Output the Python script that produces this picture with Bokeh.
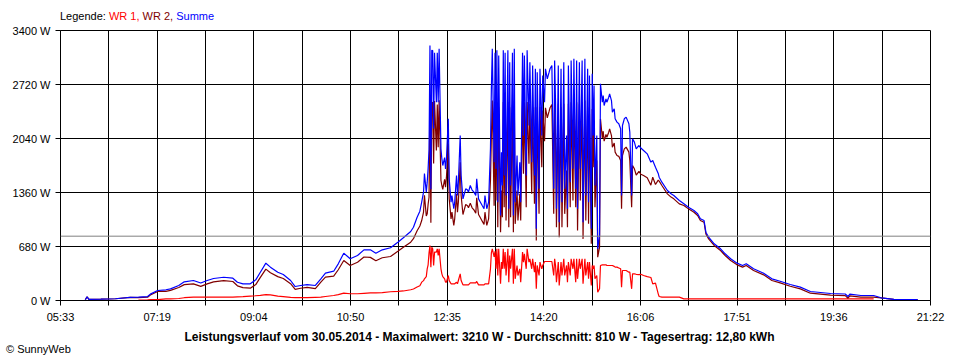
import numpy as np
from bokeh.plotting import figure
from bokeh.models import FixedTicker, Span, Range1d, ColumnDataSource, Div
from bokeh.layouts import column
from bokeh.embed import file_html
from bokeh.resources import INLINE

# ---------------- data (minutes since midnight, watts) ----------------
TIME_MIN = [
    360, 362, 364, 377, 393, 409, 418, 428, 431, 439, 448, 453, 462, 468, 478, 486,
    493, 500, 511, 521, 526, 532, 540, 546, 551, 557, 562, 570, 576, 584, 589, 595,
    602, 611, 617, 622, 631, 636, 642, 649, 657, 664, 671, 677, 684, 693, 701, 707,
    715, 718, 722, 725,
    727, 729, 730, 732, 733, 734, 735, 736, 737, 738, 739, 740, 741, 743, 744, 745,
    746, 748, 749, 750, 752, 753, 754, 756, 757, 759, 760, 762, 763, 765, 766, 767,
    769, 770, 772, 773, 775, 777, 778, 780, 782, 784, 786, 787, 789, 791, 793, 795,
    796, 798, 800, 802, 803, 804, 806, 807, 808, 809, 810, 811, 813, 814, 815, 816,
    817, 818, 819, 821, 822, 823, 824, 826, 827, 828, 829, 831, 832, 834, 835, 837,
    838, 839, 841, 842, 844, 845, 847, 848, 850, 851, 852, 853, 855, 856, 858, 859,
    861, 862, 864, 866, 867, 869, 871, 872, 873, 874, 876, 877, 879, 880, 882, 883,
    885, 886, 887, 889, 890, 892, 893, 895, 896, 897, 899, 900, 902, 903, 905, 906,
    908, 909, 910, 912, 913, 914, 915, 916, 918, 919, 921, 922, 924, 925, 926, 928,
    929, 931, 932, 934, 935, 937, 938, 940, 942, 944, 945, 946, 948, 950, 953, 954,
    956, 957, 959, 961, 964, 966, 969, 973, 977, 979, 982, 985, 986, 989, 995, 999,
    1002, 1008, 1013, 1018, 1024, 1028, 1031, 1035, 1037, 1040, 1046, 1053, 1058,
    1064, 1071, 1077, 1081, 1089, 1100, 1109, 1118, 1129, 1140, 1151, 1162, 1173,
    1189, 1192, 1194, 1206, 1220, 1228, 1242, 1268,
]
SUMME_W = [
    10, 45, 15, 18, 22, 40, 42, 50, 80, 126, 135, 147, 189, 235, 252, 220,
    252, 277, 293, 281, 230, 210, 210, 260, 356, 470, 420, 356, 327, 252, 176, 189,
    201, 189, 273, 344, 369, 462, 596, 525, 567, 638, 638, 596, 638, 664, 734, 790,
    869, 923, 1049, 1124,
    1238, 1364, 1599, 1364, 1490, 1662, 1900, 3211, 1400, 3150, 3148, 2166, 3120, 2497, 3120, 2497,
    3170, 1910, 1784, 1700, 1800, 1658, 1784, 2288, 1532, 1238, 1322, 1155, 1238, 1574, 1322, 1490,
    2078, 1574, 1280, 1322, 1406, 1390, 1364, 1448, 1390, 1364, 1322, 1532, 1280, 1238, 1196, 1155,
    1322, 1155, 1238, 1910, 2666, 3170, 1742, 3120, 1658, 3150, 1238, 3085, 1070, 1868, 1448, 3150,
    1574, 3120, 1322, 3150, 1155, 3001, 1448, 3120, 1070, 3170, 1238, 1826, 1322, 1742, 1238, 3120,
    2078, 3085, 1574, 3150, 2204, 3001, 1742, 2959, 1574, 2918, 903, 2875, 1406, 2918, 2078, 2833,
    2497, 2918, 2792, 2875, 2918, 2959, 1406, 3022, 2497, 1155, 2959, 986, 2918, 1238, 3001, 1406,
    2078, 1155, 2959, 1490, 3022, 1658, 3043, 1406, 3022, 1155, 3001, 1658, 3022, 986, 3043, 1322,
    2918, 1238, 2833, 903, 2854, 2078, 2707, 1448, 2078, 651, 818, 2728, 2497, 2581, 2455, 2539,
    2497, 2560, 2602, 2518, 2372, 2413, 2288, 2246, 2225, 2162, 1322, 2204, 2288, 2309, 2225, 2120,
    1322, 2036, 1994, 1910, 1952, 1920, 1889, 1847, 1742, 1763, 1679, 1600, 1553, 1490, 1385, 1344,
    1322, 1259, 1218, 1175, 1133, 1092, 1029, 1007, 860, 797, 714, 651, 588,
    525, 470, 441, 462, 399, 344, 273, 243, 201, 168, 113, 101, 88,
    82, 50, 80, 63, 63, 34, 13, 10,
]
WR1_W = [
    None, None, None, None, None, None, 5, 8, 10, 12, 20, 20, 25, 35, 42, 42,
    42, 42, 42, 42, 45, 48, 55, 60, 65, 75, 70, 55, 50, 40, 35, 35,
    35, 40, 42, 50, 63, 75, 92, 85, 85, 90, 95, 95, 100, 110, 115, 120,
    135, 145, 170, 185,
    231, 250, 273, 300, 399, 450, 600, 693, 420, 670, 651, 441, 609, 609, 651, 567,
    650, 399, 336, 300, 273, 231, 231, 315, 250, 210, 210, 210, 210, 230, 210, 252,
    336, 252, 197, 197, 197, 197, 197, 223, 223, 223, 223, 240, 197, 197, 197, 197,
    210, 210, 210, 399, 600, 651, 550, 620, 400, 651, 315, 651, 210, 483, 399, 651,
    399, 609, 315, 651, 231, 567, 399, 651, 210, 651, 273, 441, 315, 399, 231, 609,
    483, 588, 399, 650, 483, 525, 399, 525, 357, 483, 147, 441, 315, 483, 399, 441,
    491, 491, 491, 491, 491, 491, 315, 525, 441, 231, 483, 189, 483, 315, 525, 315,
    441, 231, 483, 315, 525, 399, 525, 231, 525, 273, 525, 399, 525, 210, 525, 315,
    483, 273, 483, 189, 441, 399, 441, 273, 315, 105, 147, 441, 449, 449, 449, 449,
    441, 441, 441, 441, 441, 430, 420, 420, 410, 399, 168, 378, 378, 378, 357, 357,
    147, 336, 336, 330, 325, 330, 315, 300, 290, 210, 218, 84, 50, 42, 42, 42,
    42, 42, 21, 21, 21, 21, 21, 21, 21, 21, 21, 21, 21,
    21, 21, 21, 21, 21, 21, 21, 21, 21, 21, 21, 21, 21,
    21, 21, 21, 21, 21, None, None, None,
]

T_START, T_END = 333, 1282          # 05:33 .. 21:22
X_TICK_LABELS = ["05:33", "07:19", "09:04", "10:50", "12:35",
                 "14:20", "16:06", "17:51", "19:36", "21:22"]
Y_TICKS = [0, 680, 1360, 2040, 2720, 3400]
Y_TICK_LABELS = ["0 W", "680 W", "1360 W", "2040 W", "2720 W", "3400 W"]
AVERAGE_W = 810
SERIES = ["WR 1", "WR 2", "Summe"]
COLORS = ["#FF0000", "#800000", "#0000FF"]
TITLE = ("Leistungsverlauf vom 30.05.2014 - Maximalwert: 3210 W - "
         "Durchschnitt: 810 W - Tagesertrag: 12,80 kWh")
COPYRIGHT = "\u00a9 SunnyWeb"

# ---------------- derived series ----------------
t = np.array(TIME_MIN, dtype=float)
summe = np.array(SUMME_W, dtype=float)
wr1 = np.array(WR1_W, dtype=float)
wr2 = summe - np.nan_to_num(wr1)

src = ColumnDataSource(dict(t=t, wr1=wr1, wr2=wr2, summe=summe))

FONT = "Liberation Sans"
W = 952

p = figure(width=W, height=304, output_backend="svg", toolbar_location=None,
           x_range=Range1d(T_START, T_END), y_range=Range1d(0, 3400),
           min_border_left=60, min_border_right=22, min_border_top=8,
           min_border_bottom=26, margin=(0, 0, 0, 0))
p.background_fill_color = "white"
p.border_fill_color = "white"
p.outline_line_color = "black"
p.outline_line_width = 1

n_int = 2 * (len(X_TICK_LABELS) - 1)
step = (T_END - T_START) / n_int
x_ticks = [round(T_START + k * step, 3) for k in range(n_int + 1)]
x_over = {}
for k, v in enumerate(x_ticks):
    x_over[v] = X_TICK_LABELS[k // 2] if k % 2 == 0 else ""

p.xaxis.ticker = FixedTicker(ticks=x_ticks, minor_ticks=[])
p.xaxis.major_label_overrides = x_over
p.yaxis.ticker = FixedTicker(ticks=Y_TICKS, minor_ticks=[])
p.yaxis.major_label_overrides = {v: s for v, s in zip(Y_TICKS, Y_TICK_LABELS)}

for ax in (p.xaxis, p.yaxis):
    ax.axis_line_color = "black"
    ax.major_tick_line_color = "black"
    ax.major_tick_out = 5
    ax.major_tick_in = 0
    ax.minor_tick_out = 0
    ax.minor_tick_in = 0
    ax.major_label_text_font = FONT
    ax.major_label_text_font_size = "11px"
    ax.major_label_text_color = "black"
    ax.major_label_standoff = 5

for g in (p.xgrid, p.ygrid):
    g.grid_line_color = "black"
    g.grid_line_alpha = 1.0
    g.grid_line_width = 1

p.add_layout(Span(location=AVERAGE_W, dimension="width",
                  line_color="#808080", line_width=1))

for col, c in zip(["wr1", "wr2", "summe"], COLORS):
    p.line("t", col, source=src, line_color=c, line_width=1.2)

legend_html = (
    '<div style="position:relative;width:%dpx;height:22px;">'
    '<div style="position:absolute;left:60px;top:10px;line-height:13px;'
    "font-family:'Liberation Sans';font-size:11px;color:black;white-space:nowrap;\">"
    'Legende: '
    '<span style="color:%s">%s,</span> '
    '<span style="color:%s">%s,</span> '
    '<span style="color:%s">%s</span>'
    '</div></div>'
) % (W, COLORS[0], SERIES[0], COLORS[1], SERIES[1], COLORS[2], SERIES[2])

bottom_html = (
    '<div style="position:relative;width:%dpx;height:30px;">'
    '<div style="position:absolute;left:7px;width:945px;top:4px;line-height:14px;'
    "text-align:center;font-family:'Liberation Sans';font-size:12px;font-weight:bold;"
    'color:black;white-space:nowrap;">%s</div>'
    '<div style="position:absolute;left:6px;top:17px;line-height:12px;'
    "font-family:'Liberation Sans';font-size:11px;color:black;white-space:nowrap;\">%s</div>"
    '</div>'
) % (W, TITLE, COPYRIGHT)

top_div = Div(text=legend_html, width=W, height=22, margin=(0, 0, 0, 0))
bottom_div = Div(text=bottom_html, width=W, height=30, margin=(0, 0, 0, 0))

layout = column(top_div, p, bottom_div, spacing=0, margin=(0, 0, 0, 0))

open("out.html", "w").write(file_html(layout, INLINE))
